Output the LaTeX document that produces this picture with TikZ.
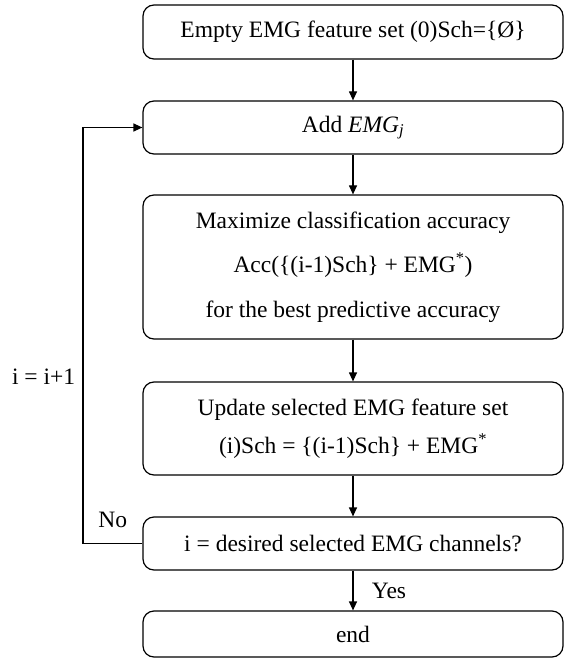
\documentclass[tikz,border=0pt]{standalone}
\usepackage{fontspec}
\setmainfont{Liberation Serif}
\usetikzlibrary{arrows.meta}

\begin{document}
\begin{tikzpicture}[x=1pt, y=-1pt, font=\fontsize{23.5}{38}\selectfont,
    stepbox/.style={draw, rounded corners=11pt, line width=1.2pt, minimum width=420pt, align=center, inner sep=0pt},
    flow/.style={-{Triangle[length=9pt, width=8pt]}, line width=1.2pt}]
        \useasboundingbox (0,0) rectangle (564,660);

        % Start - empty feature set
        \node[stepbox, minimum height=54pt] (empty) at (353,32) {Empty EMG feature set (0)Sch=\{Ø\}};

        % Add one channel
        \node[stepbox, minimum height=53pt] (add) at (353,127.5) {Add \textit{EMG}\textsubscript{\textit{j}}};

        % Evaluate accuracy
        \node[stepbox, minimum height=144pt] (maxacc) at (353,267) {Maximize classification accuracy\\[6.5pt]
            Acc(\{(i-1)Sch\} + EMG\textsuperscript{*})\\[6.5pt]
            for the best predictive accuracy};

        % Update the set
        \node[stepbox, minimum height=93pt] (update) at (353,428.5) {Update selected EMG feature set\\
            (i)Sch = \{(i-1)Sch\} + EMG\textsuperscript{*}};

        % Stop test
        \node[stepbox, minimum height=53pt] (test) at (353,543.5) {i = desired selected EMG channels?};

        % End
        \node[stepbox, minimum height=46pt] (end) at (353,634) {end};

        \draw[flow] (empty) -- (add);
        \draw[flow] (add) -- (maxacc);
        \draw[flow] (maxacc) -- (update);
        \draw[flow] (update) -- (test);
        \draw[flow] (test) -- node[right, xshift=15pt] {Yes} (end);

        % Loop back
        \coordinate (loopbot) at (83,543.5);
        \coordinate (looptop) at (83,127.5);
        \draw[flow] (test.west) -- node[above, yshift=12pt] {No} (loopbot) -- node[left, pos=0.4, xshift=-4pt] {i = i+1} (looptop) -- (add.west);
    \end{tikzpicture}
\end{document}
